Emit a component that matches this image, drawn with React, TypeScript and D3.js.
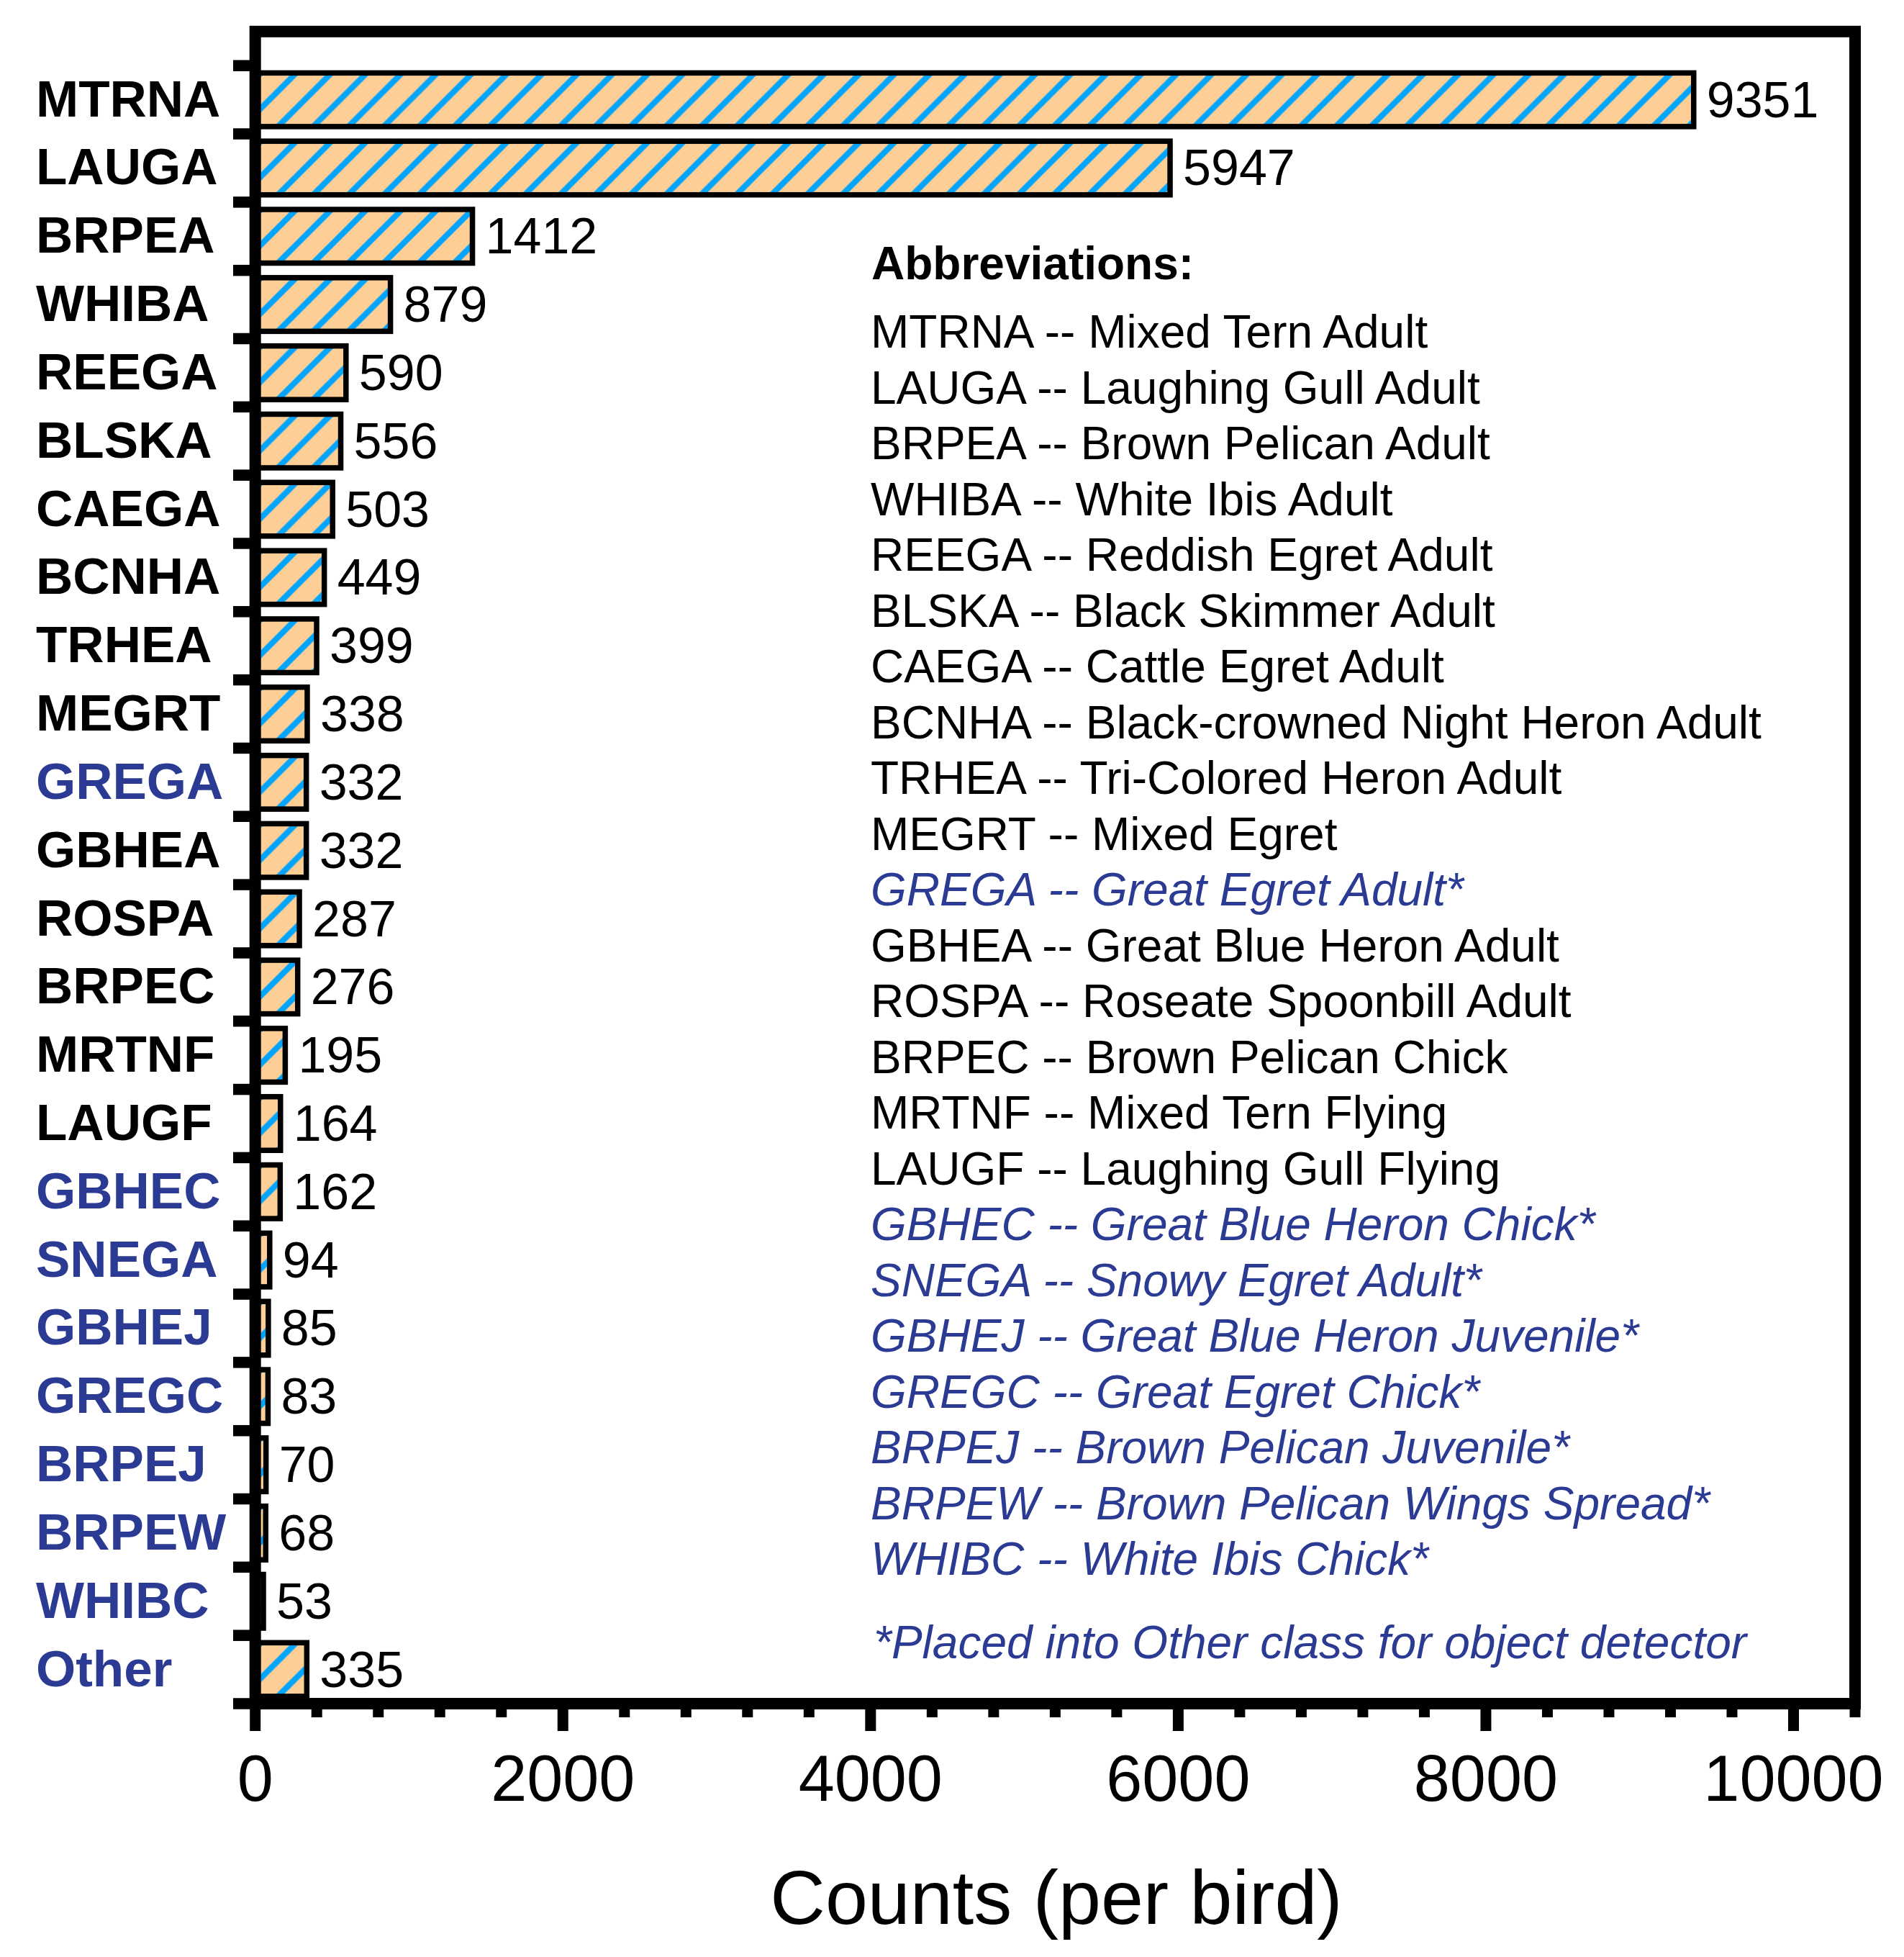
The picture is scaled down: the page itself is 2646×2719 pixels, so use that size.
import React from "react";
import * as d3 from "d3";

// bird classes, top to bottom
const codes = [
  "MTRNA", "LAUGA", "BRPEA", "WHIBA", "REEGA", "BLSKA", "CAEGA", "BCNHA",
  "TRHEA", "MEGRT", "GREGA", "GBHEA", "ROSPA", "BRPEC", "MRTNF", "LAUGF",
  "GBHEC", "SNEGA", "GBHEJ", "GREGC", "BRPEJ", "BRPEW", "WHIBC", "Other",
];
const counts = [
  9351, 5947, 1412, 879, 590, 556, 503, 449, 399, 338, 332, 332, 287, 276,
  195, 164, 162, 94, 85, 83, 70, 68, 53, 335,
];
const names = [
  "Mixed Tern Adult", "Laughing Gull Adult", "Brown Pelican Adult",
  "White Ibis Adult", "Reddish Egret Adult", "Black Skimmer Adult",
  "Cattle Egret Adult", "Black-crowned Night Heron Adult",
  "Tri-Colored Heron Adult", "Mixed Egret", "Great Egret Adult",
  "Great Blue Heron Adult", "Roseate Spoonbill Adult", "Brown Pelican Chick",
  "Mixed Tern Flying", "Laughing Gull Flying", "Great Blue Heron Chick",
  "Snowy Egret Adult", "Great Blue Heron Juvenile", "Great Egret Chick",
  "Brown Pelican Juvenile", "Brown Pelican Wings Spread", "White Ibis Chick",
];
// classes merged into "Other" for the detector
const otherClass = [
  "GREGA", "GBHEC", "SNEGA", "GBHEJ", "GREGC", "BRPEJ", "BRPEW", "WHIBC", "Other",
];
const majorTicks = [0, 2000, 4000, 6000, 8000, 10000];
const xMax = 10400;

const W = 2646;
const H = 2719;
const FONT = "'Liberation Sans', Arial, sans-serif";
const BLUE = "#2B3A93";
const PEACH = "#FDCE96";
const HATCH = "#03A5FC";

const App: React.FC = () => {
  const left = 354.7;
  const right = 2578;
  const top = 43.8;
  const bottom = 2367;
  const frameW = 16;

  const x = d3.scaleLinear().domain([0, xMax]).range([left, right]);
  const y = d3.scaleBand<string>().domain(codes).range([91.2, bottom]).padding(0);
  const step = y.step();
  const barH = step * 0.786;
  const barOff = (step - barH) / 2;
  const minorTicks = d3.range(0, xMax + 1, 400);
  const boundaries = d3.range(codes.length + 1).map((i) => 91.2 + i * step);

  const legendX = 1210;
  const legendY0 = 483.3;
  const legendStep = 77.5;

  return (
    <svg
      width={W}
      height={H}
      viewBox={`0 0 ${W} ${H}`}
      style={{ position: "absolute", left: 0, top: 0, background: "white" }}
      fontFamily={FONT}
    >
      <defs>
        <pattern id="hatch" patternUnits="userSpaceOnUse" width={49} height={49}>
          <rect width={49} height={49} fill={PEACH} />
          <path d="M13,-5L-5,13M62,-5L-5,62" stroke={HATCH} strokeWidth={8} />
        </pattern>
      </defs>
      <rect width={W} height={H} fill="white" />

      {/* bars */}
      {codes.map((c, i) => (
        <g key={c} transform={`translate(${left},${(y(c) ?? 0) + barOff})`}>
          <rect
            x={0}
            y={0}
            width={x(counts[i]) - left}
            height={barH}
            fill="url(#hatch)"
            stroke="#000"
            strokeWidth={7.5}
          />
        </g>
      ))}

      {/* value labels */}
      {codes.map((c, i) => (
        <text
          key={`v-${c}`}
          x={x(counts[i]) + 18}
          y={(y(c) ?? 0) + step / 2 + 24}
          fontSize={70}
          fill="#000"
        >
          {counts[i]}
        </text>
      ))}

      {/* frame */}
      <rect
        x={left}
        y={top}
        width={right - left}
        height={bottom - top}
        fill="none"
        stroke="#000"
        strokeWidth={frameW}
      />

      {/* y ticks at band boundaries */}
      {boundaries.map((b, i) => (
        <line key={`yt-${i}`} x1={324} x2={left} y1={b} y2={b} stroke="#000" strokeWidth={15.5} />
      ))}

      {/* x ticks */}
      {minorTicks.map((t) => (
        <line
          key={`xt-${t}`}
          x1={x(t)}
          x2={x(t)}
          y1={bottom}
          y2={majorTicks.includes(t) ? 2405 : 2386}
          stroke="#000"
          strokeWidth={15}
        />
      ))}
      {majorTicks.map((t) => (
        <text key={`xl-${t}`} x={x(t)} y={2502} fontSize={90} textAnchor="middle" fill="#000">
          {t}
        </text>
      ))}

      {/* y labels */}
      {codes.map((c) => (
        <text
          key={`yl-${c}`}
          x={50}
          y={(y(c) ?? 0) + step / 2 + 23}
          fontSize={71}
          fontWeight="bold"
          fill={otherClass.includes(c) ? BLUE : "#000"}
        >
          {c}
        </text>
      ))}

      {/* axis title */}
      <text x={1468} y={2673} fontSize={106} textAnchor="middle" fill="#000">
        Counts (per bird)
      </text>

      {/* abbreviations legend */}
      <text x={legendX + 1} y={388.3} fontSize={64} fontWeight="bold" fill="#000">
        Abbreviations:
      </text>
      {names.map((n, i) => {
        const starred = otherClass.includes(codes[i]);
        return (
          <text
            key={`lg-${i}`}
            x={legendX}
            y={legendY0 + i * legendStep}
            fontSize={64}
            fontStyle={starred ? "italic" : "normal"}
            fill={starred ? BLUE : "#000"}
          >
            {`${codes[i]} -- ${n}${starred ? "*" : ""}`}
          </text>
        );
      })}
      <text x={legendX + 4} y={2304} fontSize={64} fontStyle="italic" fill={BLUE}>
        *Placed into Other class for object detector
      </text>
    </svg>
  );
};

export default App;
